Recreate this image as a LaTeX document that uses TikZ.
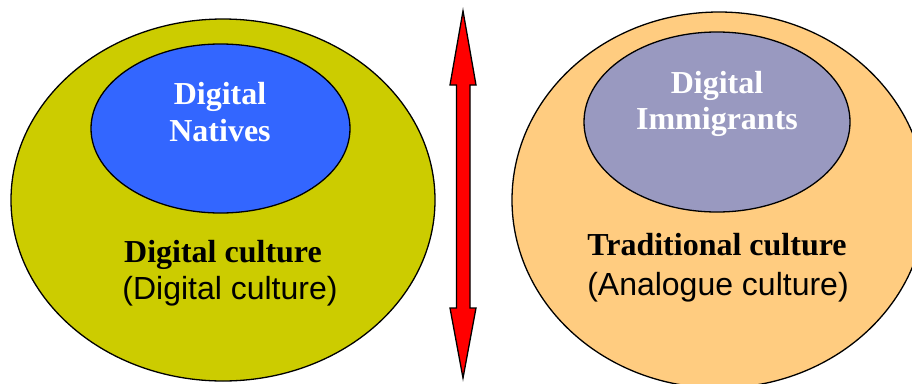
\documentclass[tikz,border=0pt]{standalone}
\usepackage{fontspec}
\setmainfont{Liberation Serif}
\setsansfont{Liberation Sans}
\usetikzlibrary{shapes.geometric}
\definecolor{olivey}{HTML}{CCCC00}
\definecolor{natblue}{HTML}{3366FF}
\definecolor{immlav}{HTML}{9999C0}
\definecolor{peach}{HTML}{FFCC80}
\tikzset{
  blob/.style={ellipse, draw=black, line width=1.3pt, inner sep=0pt},
  inlabel/.style={anchor=base, inner sep=0pt, text=white, font=\fontsize{32}{38}\selectfont\bfseries},
  boldlabel/.style={anchor=base, inner sep=0pt, text=black, font=\fontsize{32}{38}\selectfont\bfseries},
  sanslabel/.style={anchor=base, inner sep=0pt, text=black, font=\fontsize{32}{38}\selectfont\sffamily},
}
\begin{document}
\begin{tikzpicture}[x=1pt,y=-1pt]
\path[use as bounding box, fill=white] (0,0) rectangle (912,383);
% left
\node[blob, fill=olivey, minimum width=424pt, minimum height=362pt] (dcult) at (223,200) {};
\node[blob, fill=natblue, minimum width=259pt, minimum height=169pt] (dnat) at (220.5,128.5) {};
\node[inlabel] (dnat1) at (220,104) {Digital};
\node[inlabel] (dnat2) at (220,141) {Natives};
\node[boldlabel] (dcult1) at (223,262) {Digital culture};
\node[sanslabel] (dcult2) at (230,299) {(Digital culture)};
% right
\node[blob, fill=peach, minimum width=414pt, minimum height=376pt] (tcult) at (719,200) {};
\node[blob, fill=immlav, minimum width=266pt, minimum height=180pt] (dimm) at (717,122) {};
\node[inlabel] (dimm1) at (717,93) {Digital};
\node[inlabel] (dimm2) at (717,129) {Immigrants};
\node[boldlabel] (tcult1) at (717,255) {Traditional culture};
\node[sanslabel] (tcult2) at (718,295) {(Analogue culture)};
% double arrow
\draw[fill=red, draw=black, line width=1.3pt, line join=miter]
  (463,11) -- (476,85) -- (470,85) -- (470,308) -- (476,308) -- (463,378)
  -- (450,308) -- (456.5,308) -- (456.5,85) -- (450,85) -- cycle;
\end{tikzpicture}
\end{document}
